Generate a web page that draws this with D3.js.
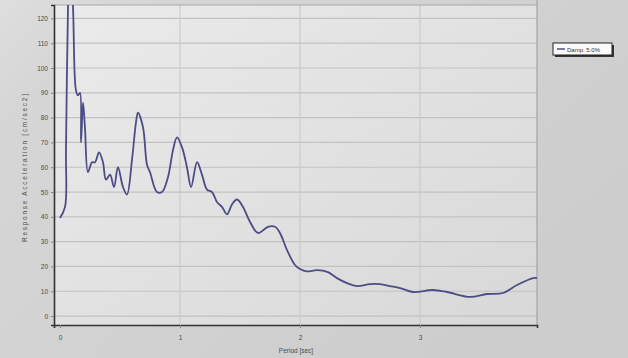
<!DOCTYPE html>
<html><head><meta charset="utf-8">
<script src="https://cdn.jsdelivr.net/npm/d3@7"></script>
<style>html,body{margin:0;padding:0;background:#d2d2d2;}svg{display:block;}</style>
</head><body>
<svg id="c" width="628" height="358"></svg>
<script>
const periods = [0.0,0.042,0.05,0.067,0.083,0.108,0.133,0.15,0.167,0.175,0.192,0.208,0.233,0.267,0.292,0.325,0.358,0.383,0.417,0.45,0.483,0.525,0.558,0.6,0.633,0.65,0.692,0.725,0.75,0.808,0.85,0.9,0.942,0.975,1.017,1.058,1.092,1.142,1.183,1.225,1.267,1.308,1.35,1.392,1.433,1.475,1.525,1.583,1.65,1.733,1.792,1.833,1.892,1.958,2.0,2.058,2.142,2.233,2.308,2.392,2.475,2.583,2.667,2.75,2.833,2.942,3.108,3.225,3.417,3.558,3.692,3.808,3.942,3.975];
const accel = [39.5,44,67,125,145,125,91,89,90,70,86,76,58,62,62,66,62,55,57,52,60,52,49,63,78,82,76,61,58,50,50,56,67,72,68,60,52,62,57,51,50,46,44,41,45,47,44,38,33.5,36,36,33.5,26.6,20.6,19,18,18.5,17.7,15.3,13.3,12.1,12.9,12.9,12.1,11.3,9.7,10.5,9.7,7.7,8.9,9.3,12.5,15.3,15.3];
const yTicks = [0,10,20,30,40,50,60,70,80,90,100,110,120];
const xTicks = [0,1,2,3];
const seriesName = "Damp. 5.0%";
const xTitle = "Period [sec]";
const yTitle = "Response Acceleration [cm/sec2]";

const svg = d3.select("#c");
const defs = svg.append("defs");
const bg = defs.append("linearGradient").attr("id","bg").attr("x1","0").attr("y1","0").attr("x2","1").attr("y2","0.6");
bg.append("stop").attr("offset","0").attr("stop-color","#dedede");
bg.append("stop").attr("offset","0.15").attr("stop-color","#d6d6d6");
bg.append("stop").attr("offset","1").attr("stop-color","#cdcdcd");
const pg = defs.append("linearGradient").attr("id","pg").attr("x1","0").attr("y1","0").attr("x2","1").attr("y2","1");
pg.append("stop").attr("offset","0").attr("stop-color","#ebebeb");
pg.append("stop").attr("offset","1").attr("stop-color","#d8d8d8");

svg.append("rect").attr("width",628).attr("height",358).attr("fill","url(#bg)");

const L=54, R=537, T=5, B=325;
const x = d3.scaleLinear().domain([-0.05,3.975]).range([L,R]);
const y = d3.scaleLinear().domain([-3.6,125.4]).range([B,T]);

svg.append("rect").attr("x",L).attr("y",T).attr("width",R-L).attr("height",B-T).attr("fill","url(#pg)");

defs.append("clipPath").attr("id","clip").append("rect").attr("x",L).attr("y",T).attr("width",R-L).attr("height",B-T);

// grid
svg.append("g").selectAll("line").data(yTicks).join("line")
  .attr("x1",L).attr("x2",R).attr("y1",d=>y(d)).attr("y2",d=>y(d))
  .attr("stroke","#c2c2c2").attr("stroke-width",1.2);
svg.append("g").selectAll("line").data(xTicks.filter(d=>d>0)).join("line")
  .attr("x1",d=>x(d)).attr("x2",d=>x(d)).attr("y1",T).attr("y2",B)
  .attr("stroke","#c6c6c6").attr("stroke-width",1);

// frame
svg.append("line").attr("x1",L).attr("x2",R).attr("y1",T).attr("y2",T).attr("stroke","#a8a8a8");
svg.append("line").attr("x1",R).attr("x2",R).attr("y1",0).attr("y2",B).attr("stroke","#9a9a9a");

// axes
const yAxis = d3.axisLeft(y).tickValues(yTicks).tickFormat(d3.format("d")).tickSize(3).tickPadding(3);
const gy = svg.append("g").attr("transform",`translate(${L},0)`).call(yAxis);
const xAxis = d3.axisBottom(x).tickValues(xTicks).tickFormat(d3.format("d")).tickSize(3).tickPadding(7);
const gx = svg.append("g").attr("transform",`translate(0,${B})`).call(xAxis);
[gy,gx].forEach(g=>{
  g.select(".domain").attr("stroke","#333").attr("stroke-width",1.6);
  g.selectAll(".tick line").attr("stroke","#888");
  g.selectAll(".tick text").attr("fill","#4a4a4a").attr("font-family","Arial, 'Liberation Sans', sans-serif").attr("font-size",6.5);
});

// line
const line = d3.line().x((d,i)=>x(periods[i])).y(d=>y(d)).curve(d3.curveCatmullRom.alpha(0.5));
svg.append("path").datum(accel).attr("clip-path","url(#clip)")
  .attr("d",line).attr("fill","none").attr("stroke","#4c4c86").attr("stroke-width",1.8).attr("stroke-linejoin","round");

// titles
svg.append("text").attr("x",296).attr("y",353).attr("text-anchor","middle")
  .attr("font-family","Arial, 'Liberation Sans', sans-serif").attr("font-size",6.5).attr("fill","#4a4a4a").text(xTitle);
svg.append("text").attr("transform","translate(27,168) rotate(-90)").attr("text-anchor","middle")
  .attr("font-family","Arial, 'Liberation Sans', sans-serif").attr("font-size",6.5).attr("fill","#4a4a4a")
  .attr("textLength",148).attr("lengthAdjust","spacing").text(yTitle);

// legend
const lg = svg.append("g");
lg.append("rect").attr("x",555).attr("y",45).attr("width",59).attr("height",12).attr("fill","#333");
lg.append("rect").attr("x",553).attr("y",43).attr("width",59).attr("height",12).attr("fill","#fafafa").attr("stroke","#222").attr("stroke-width",1);
lg.append("line").attr("x1",557).attr("x2",565).attr("y1",49).attr("y2",49).attr("stroke","#4c4c86").attr("stroke-width",1.5);
lg.append("text").attr("x",567).attr("y",51.5).attr("font-family","Arial, 'Liberation Sans', sans-serif").attr("font-size",6).attr("fill","#333").text(seriesName);
</script>
</body></html>
